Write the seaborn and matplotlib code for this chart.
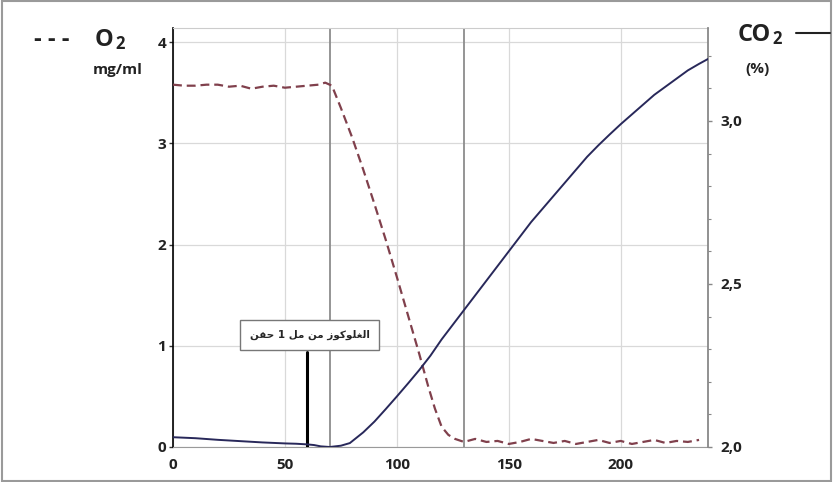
import matplotlib
matplotlib.use("Agg")
import matplotlib.pyplot as plt
import seaborn as sns
from matplotlib.lines import Line2D
from matplotlib.patches import Rectangle
from matplotlib.ticker import MultipleLocator, FuncFormatter

# O2 trace (dashed), mg/ml, left axis
o2_time = [0, 5, 10, 15, 20, 25, 30, 35, 40, 45, 50, 55, 60, 65, 68, 71, 75, 80,
           85, 90, 95, 100, 105, 110, 114, 117, 120, 123, 126, 130, 135, 140, 145,
           150, 155, 160, 165, 170, 175, 180, 185, 190, 195, 200, 205, 210, 215,
           220, 225, 230, 235]
o2_level = [3.58, 3.57, 3.57, 3.58, 3.58, 3.56, 3.57, 3.54, 3.56, 3.57, 3.55, 3.56,
            3.57, 3.58, 3.60, 3.57, 3.35, 3.06, 2.74, 2.40, 2.05, 1.68, 1.30, 0.92,
            0.60, 0.38, 0.20, 0.12, 0.08, 0.05, 0.08, 0.05, 0.06, 0.03, 0.05, 0.08,
            0.06, 0.04, 0.06, 0.03, 0.05, 0.07, 0.04, 0.06, 0.03, 0.05, 0.07, 0.04,
            0.06, 0.05, 0.07]

# CO2 trace (solid), %, right axis
co2_time = [0, 10, 20, 30, 40, 50, 55, 60, 63, 66, 70, 75, 79, 85, 90, 95, 100, 105,
            110, 115, 120, 125, 130, 135, 140, 145, 150, 155, 160, 165, 170, 175,
            180, 185, 190, 195, 200, 205, 210, 215, 220, 225, 230, 235, 239]
co2_level = [2.030, 2.027, 2.022, 2.018, 2.014, 2.011, 2.010, 2.008, 2.006, 2.002,
             2.000, 2.004, 2.012, 2.045, 2.078, 2.116, 2.155, 2.195, 2.236, 2.280,
             2.330, 2.375, 2.420, 2.465, 2.510, 2.555, 2.600, 2.645, 2.690, 2.730,
             2.770, 2.810, 2.850, 2.890, 2.925, 2.958, 2.990, 3.020, 3.050, 3.080,
             3.105, 3.130, 3.155, 3.175, 3.190]

x_ticks = [0, 50, 100, 150, 200]
o2_ticks = [0, 1, 2, 3, 4]
co2_ticks = [2.0, 2.5, 3.0]
marker_times = [70, 130]
injection_time = 60
injection_top = 0.94
injection_label = "حقن 1 مل من الغلوكوز"

# --- minimal arabic shaping (matplotlib has no text shaping) ---
FORMS = {  # isolated, final, initial, medial
    "ا": ("\ufe8d", "\ufe8e", None, None),
    "ح": ("\ufea1", "\ufea2", "\ufea3", "\ufea4"),
    "ز": ("\ufeaf", "\ufeb0", None, None),
    "غ": ("\ufecd", "\ufece", "\ufecf", "\ufed0"),
    "ق": ("\ufed5", "\ufed6", "\ufed7", "\ufed8"),
    "ك": ("\ufed9", "\ufeda", "\ufedb", "\ufedc"),
    "ل": ("\ufedd", "\ufede", "\ufedf", "\ufee0"),
    "م": ("\ufee1", "\ufee2", "\ufee3", "\ufee4"),
    "ن": ("\ufee5", "\ufee6", "\ufee7", "\ufee8"),
    "و": ("\ufeed", "\ufeee", None, None),
}


def shape_word(word):
    if not any(c in FORMS for c in word):
        return word
    out = []
    for i, c in enumerate(word):
        f = FORMS[c]
        prev_j = i > 0 and FORMS[word[i - 1]][2] is not None
        next_j = i < len(word) - 1 and f[2] is not None
        if prev_j and next_j:
            out.append(f[3])
        elif prev_j:
            out.append(f[1])
        elif next_j:
            out.append(f[2])
        else:
            out.append(f[0])
    return "".join(reversed(out))


sns.set_style("white")
plt.rcParams["font.family"] = ["Open Sans", "DejaVu Sans"]
plt.rcParams["font.weight"] = "bold"

fig = plt.figure(figsize=(8.33, 4.82), dpi=100)
ax = fig.add_axes([173 / 833, 35 / 482, 535 / 833, 419 / 482])
ax2 = ax.twinx()

ax.set_xlim(0, 239)
ax.set_ylim(0, 4.14)
ax2.set_ylim(2.0, 3.285)

ax.grid(True, color="#d9d9d9", lw=0.9)
ax.set_axisbelow(True)
for t in marker_times:
    ax.axvline(t, color="#8c8c8c", lw=1.3, zorder=1)

sns.lineplot(x=o2_time, y=o2_level, ax=ax, color="#80404c", lw=1.6,
             linestyle=(0, (4, 2.2)), zorder=3)
sns.lineplot(x=co2_time, y=co2_level, ax=ax2, color="#28285a", lw=1.4, zorder=3)

# injection marker
ax.plot([injection_time, injection_time], [0, injection_top], color="black",
        lw=2.2, zorder=4)
ax.text(61, 1.105, " ".join(shape_word(w) for w in injection_label.split(" ")),
        ha="center", va="center", fontsize=7.5, family=["DejaVu Sans"],
        fontweight="bold", zorder=5,
        bbox=dict(boxstyle="square,pad=0.95", fc="white", ec="#777777", lw=1))

ax.set_xticks(x_ticks)
ax.xaxis.set_minor_locator(MultipleLocator(10))
ax.set_yticks(o2_ticks)
ax2.set_yticks(co2_ticks)
ax2.yaxis.set_minor_locator(MultipleLocator(0.1))
ax2.yaxis.set_major_formatter(FuncFormatter(lambda v, p: f"{v:.1f}".replace(".", ",")))

ax.tick_params(axis="x", which="major", length=4, width=1, color="#999999",
               labelsize=11, pad=4, labelcolor="#222222")
ax.tick_params(axis="x", which="minor", length=2.5, width=0.8, color="#999999")
ax.tick_params(axis="y", length=3, width=1, color="#333333", labelsize=11,
               pad=2, labelcolor="#222222")
ax2.tick_params(axis="y", which="major", length=3, width=1, color="#888888",
                labelsize=11, pad=6, labelcolor="#222222")
ax2.tick_params(axis="y", which="minor", length=2, width=0.8, color="#888888")
for lab in ax.get_xticklabels() + ax.get_yticklabels() + ax2.get_yticklabels():
    lab.set_fontweight("bold")

ax.set_xlabel("")
ax.set_ylabel("")
ax2.set_ylabel("")

ax.spines["left"].set_color("black")
ax.spines["left"].set_linewidth(1.2)
ax.spines["bottom"].set_color("#9a9a9a")
ax.spines["top"].set_color("#cccccc")
ax.spines["right"].set_visible(False)
for s in ["left", "bottom", "top"]:
    ax2.spines[s].set_visible(False)
ax2.spines["right"].set_color("#888888")
ax2.spines["right"].set_linewidth(1.3)

# axis titles in pixel coordinates
H = 482
fig.text(52, H - 40, "- - -", transform=None, ha="center", va="center",
         fontsize=17, fontweight="bold", color="#222222")
fig.text(95, H - 40, "O", transform=None, ha="left", va="center",
         fontsize=17, fontweight="bold", color="#222222")
fig.text(115, H - 44, "2", transform=None, ha="left", va="center",
         fontsize=12, fontweight="bold", color="#222222")
fig.text(118, H - 70, "mg/ml", transform=None, ha="center", va="center",
         fontsize=11, fontweight="bold", color="#222222")
fig.text(738, H - 35, "CO", transform=None, ha="left", va="center",
         fontsize=17, fontweight="bold", color="#222222")
fig.text(772, H - 39, "2", transform=None, ha="left", va="center",
         fontsize=12, fontweight="bold", color="#222222")
fig.text(757, H - 69, "(%)", transform=None, ha="center", va="center",
         fontsize=11, fontweight="bold", color="#222222")
fig.add_artist(Line2D([796 / 833, 830 / 833], [(H - 33) / H, (H - 33) / H],
                      transform=fig.transFigure, color="#222222", lw=1.5))
fig.add_artist(Rectangle((0.002, 0.003), 0.996, 0.994, transform=fig.transFigure,
                         fill=False, ec="#9a9a9a", lw=1.5))

fig.savefig("out.png", dpi=100)
